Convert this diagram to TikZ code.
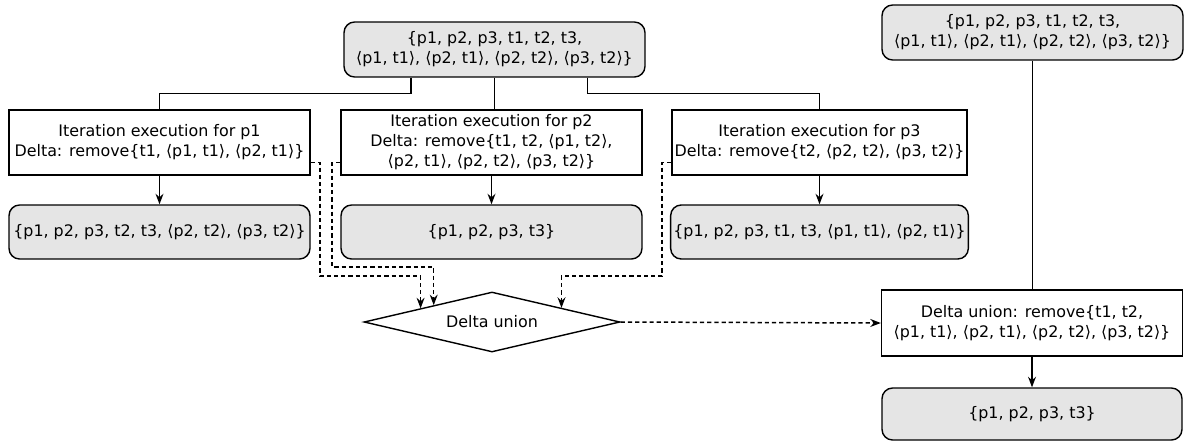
\documentclass[tikz,border=0pt]{standalone}
\usepackage{fontspec}
\setmainfont{DejaVu Sans}
\usetikzlibrary{shapes.geometric,arrows.meta,calc}
\tikzset{
    setbox/.style={draw, rounded corners=6pt, fill=black!10, line width=0.8pt, align=center, minimum width=6.02cm, minimum height=1.08cm, inner sep=1.5pt},
    iterbox/.style={draw, fill=white, line width=0.8pt, align=center, minimum width=6.02cm, minimum height=1.3cm, inner sep=1.5pt},
    flow/.style={line width=0.85pt},
    tip/.style={-{Stealth[length=6pt,width=4.5pt,inset=2pt]}},
    dflow/.style={line width=0.85pt, dash pattern=on 2.4pt off 1.7pt, tip},
}
\begin{document}
\fontsize{9.05}{11.4}\selectfont
\begin{tikzpicture}[x=0.02cm, y=-0.02cm]
    \useasboundingbox (0,0) rectangle (1185,443);
    % starting sets
    \node[setbox, minimum height=1.1cm] (top) at (494.5,49.5) {\{p1, p2, p3, t1, t2, t3,\\⟨p1, t1⟩, ⟨p2, t1⟩, ⟨p2, t2⟩, ⟨p3, t2⟩\}};
    \node[setbox, minimum height=1.1cm] (topR) at (1032.5,32.5) {\{p1, p2, p3, t1, t2, t3,\\⟨p1, t1⟩, ⟨p2, t1⟩, ⟨p2, t2⟩, ⟨p3, t2⟩\}};
    % iterations
    \node[iterbox] (it1) at (159.5,142.5) {Iteration execution for p1\\Delta: remove\{t1, ⟨p1, t1⟩, ⟨p2, t1⟩\}};
    \node[iterbox] (it2) at (491.5,142.5) {Iteration execution for p2\\Delta: remove\{t1, t2, ⟨p1, t2⟩,\\⟨p2, t1⟩, ⟨p2, t2⟩, ⟨p3, t2⟩\}};
    \node[iterbox, minimum width=5.9cm] (it3) at (819.5,142.5) {Iteration execution for p3\\Delta: remove\{t2, ⟨p2, t2⟩, ⟨p3, t2⟩\}};
    % results of the iterations
    \node[setbox] (r1) at (159.5,232) {\{p1, p2, p3, t2, t3, ⟨p2, t2⟩, ⟨p3, t2⟩\}};
    \node[setbox] (r2) at (491.5,232) {\{p1, p2, p3, t3\}};
    \node[setbox, minimum width=5.9cm] (r3) at (819.5,232) {\{p1, p2, p3, t1, t3, ⟨p1, t1⟩, ⟨p2, t1⟩\}};
    % union of the deltas
    \node[draw, diamond, fill=white, line width=0.8pt, aspect=4.27, inner sep=0pt, minimum width=5.12cm, minimum height=1.2cm] (du) at (492,322) {Delta union};
    \node[iterbox, minimum height=1.32cm] (duR) at (1032,323) {Delta union: remove\{t1, t2,\\⟨p1, t1⟩, ⟨p2, t1⟩, ⟨p2, t2⟩, ⟨p3, t2⟩\}};
    \node[setbox, minimum width=6cm, minimum height=1.04cm] (fin) at (1032,414) {\{p1, p2, p3, t3\}};
    % branching from the start set
    \draw[flow] ($(top.south west)!0.223!(top.south east)$) -- ++(0,16) -| (it1.north);
    \draw[flow] (top.south) -- (top.south |- it2.north);
    \draw[flow] ($(top.south west)!0.807!(top.south east)$) -- ++(0,16) -| (it3.north);
    \draw[flow] (topR.south) -- (topR.south |- duR.north);
    \foreach \i in {1,2,3} {
        \draw[flow, tip] (it\i.south) -- (r\i.north);
    }
    \draw[flow, tip] (duR.south) -- (fin.north);
    % deltas into the union
    \draw[dflow] ($(it1.south east)!0.2!(it1.north east)$) -| (320,276) -| ($(du.west)!0.445!(du.north)$);
    \draw[dflow] ($(it2.south west)!0.2!(it2.north west)$) -| (332,267) -| ($(du.west)!0.547!(du.north)$);
    \draw[dflow] ($(it3.south west)!0.2!(it3.north west)$) -| (662,276) -| ($(du.east)!0.46!(du.north)$);
    \draw[dflow] (du.east) -- (duR.west);
\end{tikzpicture}
\end{document}
